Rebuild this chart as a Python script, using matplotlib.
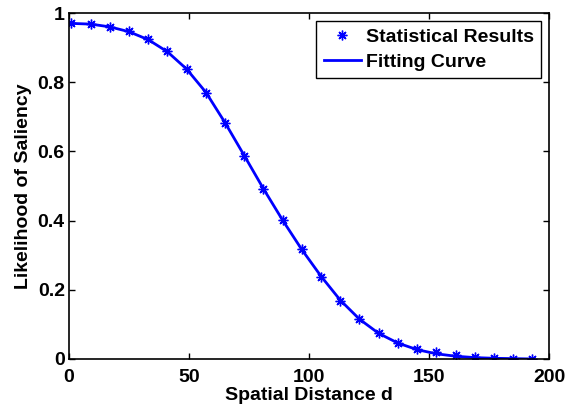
import matplotlib
matplotlib.use('Agg')
import matplotlib.pyplot as plt

plt.rcParams['font.family'] = ['Liberation Sans', 'DejaVu Sans']
plt.rcParams['font.weight'] = 'bold'

# distance bins (statistics) and likelihood values
dist = [1, 9, 17, 25, 33, 41, 49, 57, 65, 73, 81, 89, 97, 105, 113, 121,
        129, 137, 145, 153, 161, 169, 177, 185, 193]
stat_y = [0.970, 0.967, 0.959, 0.948, 0.924, 0.889, 0.837, 0.770, 0.681,
          0.587, 0.491, 0.402, 0.317, 0.238, 0.168, 0.115, 0.074, 0.047,
          0.030, 0.021, 0.012, 0.007, 0.003, 0.001, 0.000]
fit_y = [0.970, 0.968, 0.960, 0.946, 0.923, 0.888, 0.838, 0.771, 0.683,
         0.588, 0.492, 0.401, 0.316, 0.239, 0.170, 0.115, 0.074, 0.046,
         0.027, 0.015, 0.008, 0.004, 0.002, 0.001, 0.000]

x_ticks = [0, 50, 100, 150, 200]
y_ticks = [0, 0.2, 0.4, 0.6, 0.8, 1.0]
y_tick_labels = ['0', '0.2', '0.4', '0.6', '0.8', '1']

fig = plt.figure(figsize=(5.75, 4.07), dpi=100)
ax = fig.add_axes([0.12, 0.118, 0.835, 0.850])

# matlab style asterisk marker
ax.plot(dist, stat_y, linestyle='none', marker=(8, 2, 0), color='#0000ff',
        markersize=7, markeredgewidth=1.0, label='Statistical Results')
ax.plot(dist, fit_y, color='#0000ff', lw=2, label='Fitting Curve')

ax.set_xlim(0, 200)
ax.set_ylim(0, 1)
ax.set_xticks(x_ticks)
ax.set_yticks(y_ticks)
ax.set_yticklabels(y_tick_labels)
ax.tick_params(direction='in', top=True, right=True, length=4, width=1,
               labelsize=14)
ax.tick_params(axis='x', pad=7)
ax.tick_params(axis='y', pad=3)
for lbl in ax.get_xticklabels() + ax.get_yticklabels():
    lbl.set_fontweight('bold')
for s in ax.spines.values():
    s.set_linewidth(1.2)

ax.set_xlabel('Spatial Distance d', fontsize=14, fontweight='bold', labelpad=1)
ax.set_ylabel('Likelihood of Saliency', fontsize=14, fontweight='bold', labelpad=4)

leg = ax.legend(loc='upper right', fontsize=14, fancybox=False, framealpha=1,
                edgecolor='black', handlelength=1.9, borderpad=0.4,
                labelspacing=0.35, handletextpad=0.25, borderaxespad=0.4)
leg.get_frame().set_linewidth(1.0)

fig.savefig('out.png', dpi=100, facecolor='white')
